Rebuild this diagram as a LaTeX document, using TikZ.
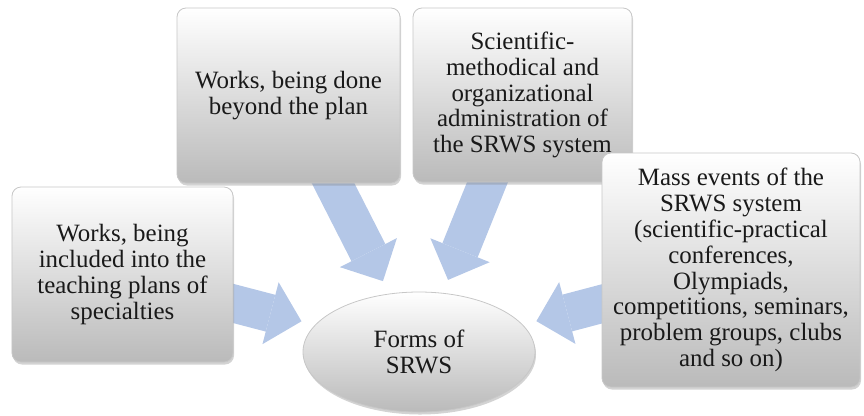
\documentclass[tikz,border=0pt]{standalone}
\usepackage{fontspec}
\setmainfont{Liberation Serif}
\usetikzlibrary{shapes.geometric,shadows,arrows.meta,backgrounds}
\definecolor{arrowblue}{RGB}{180,199,231}

\begin{document}
\begin{tikzpicture}[x=1bp, y=-1bp,
                      box/.style = {shape=rectangle, rounded corners=9bp,
                        draw=black!22, line width=0.8bp, align=center,
                        inner sep=2bp, text=black!90,
                        font=\fontsize{25}{26}\selectfont,
                        top color=white, bottom color=black!27,
                        drop shadow={opacity=0.35, shadow xshift=1bp, shadow yshift=-2.5bp}},
                      oval/.style = {box, shape=ellipse, inner sep=0pt,
                        minimum width=232bp, minimum height=120bp},
                      flow/.style = {line width=38bp, color=arrowblue,
                        shorten <=-20bp, shorten >=14bp,
                        -{Triangle[width=64bp, length=32bp, line width=0pt]}}]
  \useasboundingbox (0,0) rectangle (864,415);
  \node[box, minimum width=221bp, minimum height=175bp] (plan) at (122.5,274.5)
    {Works, being\\included into the\\teaching plans of\\specialties};
  \node[box, minimum width=223bp, minimum height=175bp] (beyond) at (288.5,95.5)
    {Works, being done\\beyond the plan};
  \node[box, minimum width=219bp, minimum height=174bp] (admin) at (522.5,95)
    {Scientific-\\methodical and\\organizational\\administration of\\the SRWS system};
  \node[box, minimum width=258bp, minimum height=234bp] (mass) at (731,270)
    {Mass events of the\\SRWS system\\(scientific-practical\\conferences,\\Olympiads,\\competitions, seminars,\\problem groups, clubs\\and so on)};
  \node[oval] (forms) at (419,352) {Forms of\\SRWS};
  \begin{scope}[on background layer]
    \draw[flow] (plan) -- (forms);
    \draw[flow] (beyond) -- (forms);
    \draw[flow] (admin) -- (forms);
    \draw[flow] (mass) -- (forms);
  \end{scope}
\end{tikzpicture}
\end{document}
